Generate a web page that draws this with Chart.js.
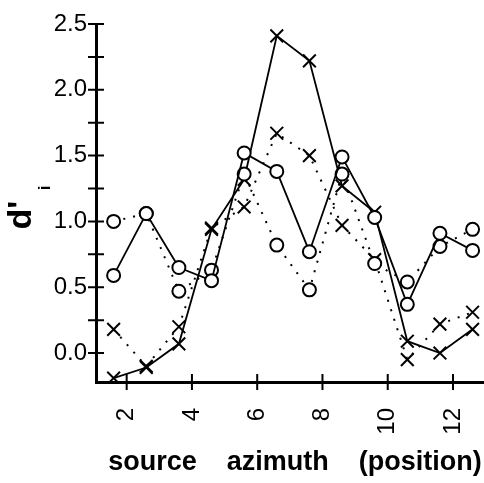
<!DOCTYPE html>
<html lang="en">
<head>
<meta charset="UTF-8">
<title>d'i by source azimuth</title>
<script src="https://cdn.jsdelivr.net/npm/chart.js"></script>
<style>
  html, body { margin: 0; padding: 0; background: #fff; }
  #wrap { width: 484px; height: 483px; }
</style>
</head>
<body>
<div id="wrap"><canvas id="dChart" width="484" height="483"></canvas></div>
<script>
// source azimuth positions where the values were measured
const positions = [1.6, 2.6, 3.6, 4.6, 5.6, 6.6, 7.6, 8.6, 9.6, 10.6, 11.6, 12.6];

// d'_i values
const circlesSolid  = [0.59, 1.06, 0.65, 0.55, 1.52, 1.38, 0.77, 1.49, 1.03, 0.37, 0.91, 0.78];
const circlesDotted = [1.00, 1.06, 0.47, 0.63, 1.36, 0.82, 0.48, 1.36, 0.68, 0.54, 0.81, 0.94];
const crossesSolid  = [-0.19, -0.11, 0.07, 0.94, 1.32, 2.41, 2.22, 1.27, 1.07, 0.09, 0.00, 0.18];
const crossesDotted = [0.18, -0.10, 0.20, 0.95, 1.11, 1.67, 1.50, 0.97, 0.71, -0.05, 0.22, 0.31];

// axis ticks
const xTicks = [2, 4, 6, 8, 10, 12];
const yMajor = [0, 0.5, 1.0, 1.5, 2.0, 2.5];
const yMinor = [0.25, 0.75, 1.25, 1.75, 2.25];

function pts(values) {
    return values.map((v, i) => ({ x: positions[i], y: v }));
}

// crossing tick marks and the two axis titles
const axisMarks = {
    id: 'axisMarks',
    afterDraw(chart) {
        const { ctx, chartArea, scales } = chart;
        ctx.save();
        ctx.strokeStyle = '#000';
        ctx.lineWidth = 2;
        ctx.beginPath();
        yMajor.concat(yMinor).forEach(v => {
            const y = scales.y.getPixelForValue(v);
            ctx.moveTo(chartArea.left - 8, y);
            ctx.lineTo(chartArea.left + 8, y);
        });
        xTicks.forEach(v => {
            const x = scales.x.getPixelForValue(v);
            ctx.moveTo(x, chartArea.bottom - 8);
            ctx.lineTo(x, chartArea.bottom + 8);
        });
        ctx.stroke();

        ctx.fillStyle = '#000';
        ctx.textAlign = 'center';
        ctx.textBaseline = 'middle';
        ctx.font = 'bold 27px "Liberation Sans", Arial, sans-serif';
        ctx.fillText('source    azimuth    (position)', 295, 463);

        ctx.translate(22, 215);
        ctx.rotate(-Math.PI / 2);
        ctx.font = 'bold 34px "Liberation Sans", Arial, sans-serif';
        ctx.fillText("d'", 0, 0);
        ctx.font = 'bold 17px "Liberation Sans", Arial, sans-serif';
        ctx.fillText('i', 27, 23);
        ctx.restore();
    }
};

const circleStyle = {
    pointStyle: 'circle',
    pointRadius: 6.5,
    pointBorderWidth: 2,
    pointBackgroundColor: '#fff',
    pointBorderColor: '#000'
};
const crossStyle = {
    pointStyle: 'crossRot',
    pointRadius: 9,
    pointBorderWidth: 2,
    pointBorderColor: '#000'
};

new Chart(document.getElementById('dChart'), {
    type: 'line',
    data: {
        datasets: [
            Object.assign({ label: 'circles solid', data: pts(circlesSolid), borderColor: '#000', borderWidth: 1.8 }, circleStyle),
            Object.assign({ label: 'circles dotted', data: pts(circlesDotted), borderColor: '#000', borderWidth: 2, borderDash: [2, 8] }, circleStyle),
            Object.assign({ label: 'crosses solid', data: pts(crossesSolid), borderColor: '#000', borderWidth: 1.8 }, crossStyle),
            Object.assign({ label: 'crosses dotted', data: pts(crossesDotted), borderColor: '#000', borderWidth: 2, borderDash: [2, 8] }, crossStyle)
        ]
    },
    options: {
        responsive: false,
        animation: false,
        layout: { autoPadding: false, padding: { top: 24, right: 0, bottom: 0, left: 0 } },
        plugins: {
            legend: { display: false },
            tooltip: { enabled: false }
        },
        elements: { line: { tension: 0 } },
        scales: {
            x: {
                type: 'linear',
                min: 1.06,
                max: 12.95,
                grid: { display: false },
                border: { display: true, color: '#000', width: 3 },
                ticks: {
                    color: '#000',
                    font: { family: '"Liberation Sans", Arial, sans-serif', size: 24 },
                    minRotation: 90,
                    maxRotation: 90,
                    padding: 18,
                    autoSkip: false
                },
                afterBuildTicks: s => { s.ticks = xTicks.map(v => ({ value: v })); },
                afterFit: s => { s.height = 101; s.paddingRight = 0; s.paddingLeft = 0; }
            },
            y: {
                min: -0.22,
                max: 2.5,
                grid: { display: false },
                border: { display: true, color: '#000', width: 3 },
                ticks: {
                    color: '#000',
                    font: { family: '"Liberation Sans", Arial, sans-serif', size: 24 },
                    padding: 1,
                    callback: v => v.toFixed(1)
                },
                afterBuildTicks: s => { s.ticks = yMajor.map(v => ({ value: v })); },
                afterFit: s => { s.width = 96; }
            }
        }
    },
    plugins: [axisMarks]
});
</script>
</body>
</html>
